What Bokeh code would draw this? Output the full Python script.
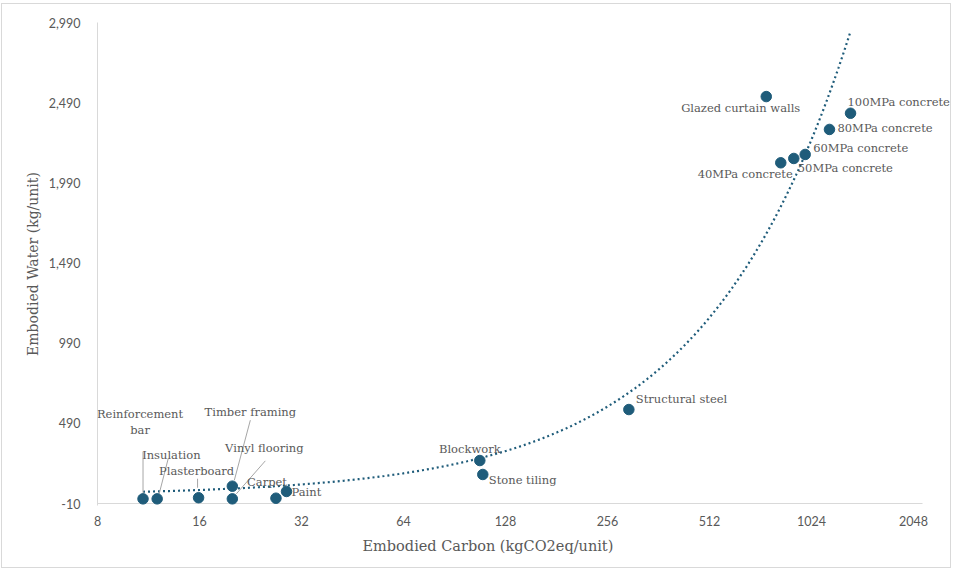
import numpy as np
from bokeh.plotting import figure
from bokeh.models import Range1d, FixedTicker, NumeralTickFormatter, Label, ColumnDataSource, Title
from bokeh.embed import file_html
from bokeh.resources import INLINE

# ---------------- data ----------------
materials = ["Reinforcement bar", "Insulation", "Plasterboard", "Timber framing",
             "Vinyl flooring", "Carpet", "Paint", "Blockwork", "Stone tiling",
             "Structural steel", "Glazed curtain walls", "100MPa concrete",
             "80MPa concrete", "60MPa concrete", "50MPa concrete", "40MPa concrete"]
carbon = [10.9, 12.0, 15.9, 20.0, 20.0, 26.9, 28.9, 107.5, 109.7,
          296, 753, 1335, 1157, 981, 908, 831]
water = [19, 19, 26, 98, 19, 23, 65, 258, 171,
         576, 2528, 2424, 2323, 2167, 2142, 2115]
x_ticks = [8, 16, 32, 64, 128, 256, 512, 1024, 2048]
y_ticks = [-10, 490, 990, 1490, 1990, 2490, 2990]
x_title = "Embodied Carbon (kgCO2eq/unit)"
y_title = "Embodied Water (kg/unit)"

# ---------------- layout / style ----------------
W, H = 950, 565
PX_PER_OCT = 102.0           # horizontal pixels per doubling
PX_PER_UNIT = 481.0 / 3000   # vertical pixels per kg
BL, BR, BT = 95, 0, 18
BOTTOM_PAD = 2               # frame extends 2px below the -10 line
X0 = x_ticks[0]
Y0, Y1 = y_ticks[0], y_ticks[-1]
FRAME_W = W - BL - BR
X1 = X0 * 2 ** (FRAME_W / PX_PER_OCT)
X_AXIS_END = x_ticks[-1] * 2 ** (9 / PX_PER_OCT)
Y_START = Y0 - BOTTOM_PAD / PX_PER_UNIT
FRAME_H = (Y1 - Y_START) * PX_PER_UNIT
BB = int(round(H - BT - FRAME_H))

DOT = "#1F5C7A"
GREY = "#595959"
AXIS = "#d9d9d9"
SERIF = "DejaVu Serif"

# label layout: (lines, align, dx, dy) in screen px relative to the point (dy down)
label_layout = {
    "Reinforcement bar": (["Reinforcement", "bar"], "center", -3, -77),
    "Insulation": (["Insulation"], "left", -15, -44),
    "Plasterboard": (["Plasterboard"], "center", -2, -27),
    "Timber framing": (["Timber framing"], "center", 18, -74),
    "Vinyl flooring": (["Vinyl flooring"], "center", 32, -51),
    "Carpet": (["Carpet"], "center", -9, -16),
    "Paint": (["Paint"], "left", 5, 1),
    "Blockwork": (["Blockwork"], "center", -10, -12),
    "Stone tiling": (["Stone tiling"], "left", 6, 6),
    "Structural steel": (["Structural steel"], "left", 7, -11),
    "Glazed curtain walls": (["Glazed curtain walls"], "right", 34, 11),
    "100MPa concrete": (["100MPa concrete"], "left", -3, -11),
    "80MPa concrete": (["80MPa concrete"], "left", 8, -1),
    "60MPa concrete": (["60MPa concrete"], "left", 8, -6),
    "50MPa concrete": (["50MPa concrete"], "left", 4, 10),
    "40MPa concrete": (["40MPa concrete"], "right", 12, 11),
}
leader_layout = {
    "Reinforcement bar": (0, -47, 0, -6),
    "Insulation": (11, -40, 2, -5),
    "Plasterboard": (-1, -19, -1, -10),
    "Timber framing": (18, -66, 2, -6),
    "Vinyl flooring": (33, -38, 4, -5),
}
LINE_H = 16


def shift(x, y, dx, dy):
    return x * 2 ** (dx / PX_PER_OCT), y - dy / PX_PER_UNIT


p = figure(width=W, height=H, x_axis_type="log",
           x_range=Range1d(X0, X1), y_range=Range1d(Y_START, Y1),
           output_backend="svg", toolbar_location=None,
           min_border_left=BL, min_border_right=BR,
           min_border_top=BT, min_border_bottom=BB)
p.styles = {"border": "1px solid #d9d9d9", "margin-left": "1px", "margin-top": "3px"}
p.outline_line_color = None
p.xgrid.visible = False
p.ygrid.visible = False
p.background_fill_color = "white"
p.border_fill_color = "white"

for ax in (p.xaxis[0], p.yaxis[0]):
    ax.axis_line_color = AXIS
    ax.axis_line_width = 1
    ax.major_tick_line_color = None
    ax.minor_tick_line_color = None
    ax.major_tick_out = 0
    ax.major_tick_in = 0
    ax.minor_tick_out = 0
    ax.minor_tick_in = 0
    ax.major_label_text_font = "Lato"
    ax.major_label_text_font_size = "12.5px"
    ax.major_label_text_color = GREY
    ax.axis_label_text_font = SERIF
    ax.axis_label_text_font_size = "14px"
    ax.axis_label_text_font_style = "normal"
    ax.axis_label_text_color = GREY

p.xaxis.axis_line_color = None   # drawn below, ending just past 2048
p.xaxis.ticker = FixedTicker(ticks=x_ticks)
p.xaxis.formatter = NumeralTickFormatter(format="0")
p.yaxis.ticker = FixedTicker(ticks=y_ticks)
p.yaxis.formatter = NumeralTickFormatter(format="0,0")
p.yaxis.axis_label = y_title
p.xaxis.major_label_standoff = 10
p.yaxis.major_label_standoff = 17
p.yaxis.axis_label_standoff = 5

# x-axis title as a below-title so it can sit left of the frame centre, as in the original
p.add_layout(Title(text=x_title, align="left", offset=265, standoff=14,
                   text_font=SERIF, text_font_size="14.5px",
                   text_font_style="normal", text_color=GREY), "below")

# x axis line
p.segment(x0=[X0], y0=[Y0], x1=[X_AXIS_END], y1=[Y0], line_color=AXIS, line_width=1.2)

# linear least-squares trend line
m, c = np.polyfit(np.array(carbon), np.array(water), 1)
tx = np.geomspace(min(carbon), max(carbon), 300)
p.line(tx, m * tx + c, line_color=DOT, line_width=2.2, line_dash="2 3")

# leader lines
for name, (dx1, dy1, dx2, dy2) in leader_layout.items():
    i = materials.index(name)
    xa, ya = shift(carbon[i], water[i], dx1, dy1)
    xb, yb = shift(carbon[i], water[i], dx2, dy2)
    p.segment(x0=[xa], y0=[ya], x1=[xb], y1=[yb], line_color="#a6a6a6", line_width=1)

# points
src = ColumnDataSource(dict(x=carbon, y=water, name=materials))
p.scatter("x", "y", source=src, size=10.5, fill_color=DOT, line_color=DOT)

# labels
for i, name in enumerate(materials):
    lines, align, dx, dy = label_layout[name]
    n = len(lines)
    for k, t in enumerate(lines):
        ly = dy + (k - (n - 1) / 2) * LINE_H
        lx, lyd = shift(carbon[i], water[i], dx, ly)
        p.add_layout(Label(x=lx, y=lyd, text=t, text_align=align,
                           text_baseline="middle", text_font=SERIF,
                           text_font_size="11.5px", text_color=GREY))

open("out.html", "w").write(file_html(p, INLINE))
